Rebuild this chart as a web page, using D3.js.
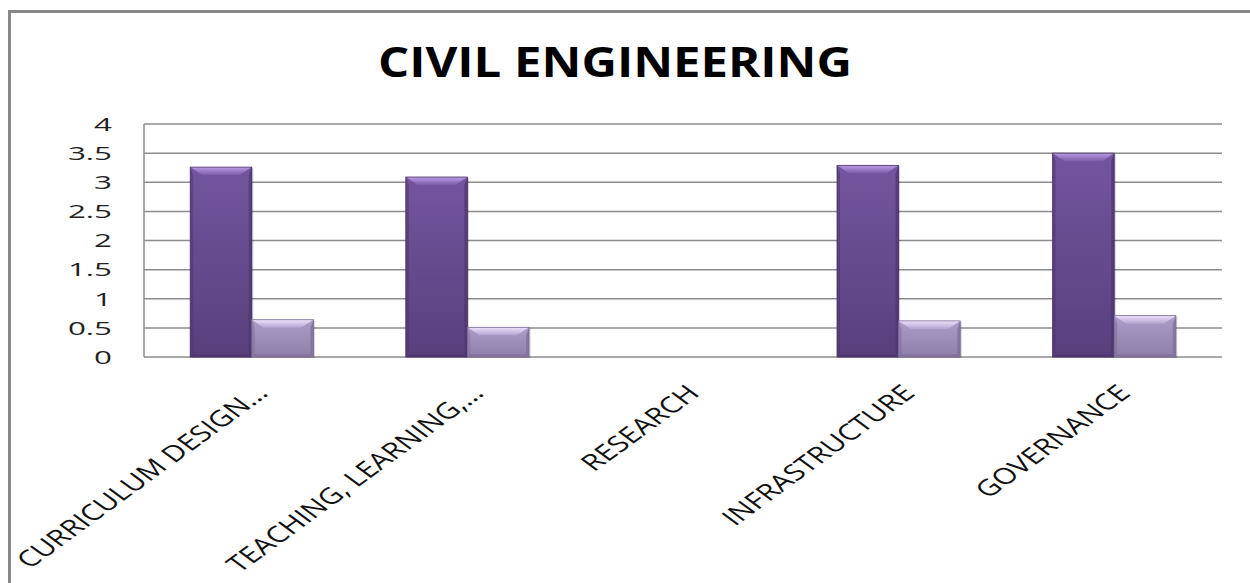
<!DOCTYPE html>
<html><head><meta charset="utf-8">
<script src="https://cdn.jsdelivr.net/npm/d3@7"></script>
<style>html,body{margin:0;padding:0;background:#fff;}svg{display:block;}</style>
</head><body>
<svg id="chart" width="1250" height="583"></svg>
<script>
const title = "CIVIL ENGINEERING";
const categories = ["CURRICULUM DESIGN…", "TEACHING, LEARNING,…", "RESEARCH", "INFRASTRUCTURE", "GOVERNANCE"];
const seriesA = [3.26, 3.09, 0, 3.29, 3.5];
const seriesB = [0.64, 0.51, 0, 0.62, 0.71];
const yTicks = [0, 0.5, 1, 1.5, 2, 2.5, 3, 3.5, 4];
const yTickLabels = ["0", "0.5", "1", "1.5", "2", "2.5", "3", "3.5", "4"];

const svg = d3.select("#chart");
const W = 1250, H = 583;
const m = {left: 144, right: 28, top: 124, bottom: 226};
const x = d3.scaleBand().domain(categories).range([m.left, W - m.right]).paddingInner(0).paddingOuter(0);
const y = d3.scaleLinear().domain([0, 4]).range([H - m.bottom, m.top]);
const xs = d3.scaleBand().domain(["A", "B"]).range([0, x.bandwidth()]).paddingInner(0).paddingOuter(0.75);

const defs = svg.append("defs");
function grad(id, stops, dir) {
  const g = defs.append("linearGradient").attr("id", id)
    .attr("x1", dir[0]).attr("y1", dir[1]).attr("x2", dir[2]).attr("y2", dir[3]);
  stops.forEach(s => g.append("stop").attr("offset", s[0]).attr("stop-color", s[1]));
}
grad("gA", [[0, "#73559f"], [1, "#57407c"]], ["0", "0", "0", "1"]);
grad("gB", [[0, "#ab9dc8"], [1, "#8e7faa"]], ["0", "0", "0", "1"]);
grad("tA", [[0, "#bb9be6"], [1, "#7c5ca8"]], ["0", "0", "0", "1"]);
grad("tB", [[0, "#efe2fd"], [1, "#b3a3d0"]], ["0", "0", "0", "1"]);

svg.append("rect").attr("width", W).attr("height", H).attr("fill", "#fff");
svg.append("rect").attr("x", 9.5).attr("y", 11.5).attr("width", W + 20).attr("height", H + 20)
  .attr("fill", "none").attr("stroke", "#878787").attr("stroke-width", 3);

svg.append("text").attr("x", 615).attr("y", 77).attr("text-anchor", "middle")
  .attr("font-family", "Open Sans").attr("font-weight", 700).attr("font-size", 42)
  .attr("textLength", 474).attr("lengthAdjust", "spacingAndGlyphs")
  .attr("fill", "#000").text(title);

svg.append("g").selectAll("line").data(yTicks).join("line")
  .attr("x1", m.left).attr("x2", W - m.right)
  .attr("y1", d => y(d)).attr("y2", d => y(d))
  .attr("stroke", "#8c8c8c").attr("stroke-width", 1.5);
svg.append("line").attr("x1", m.left).attr("x2", m.left).attr("y1", y(0)).attr("y2", y(4))
  .attr("stroke", "#8c8c8c").attr("stroke-width", 1.5);

const yLab = svg.append("g").selectAll("text").data(yTicks).join("text")
  .attr("y", d => y(d)).attr("dy", "0.36em")
  .attr("font-family", "Open Sans").attr("font-size", 19).attr("fill", "#222")
  .text((d, i) => yTickLabels[i]);
yLab.each(function() {
  const len = this.getComputedTextLength() * 1.65;
  d3.select(this).attr("x", 112 - len)
    .attr("textLength", len).attr("lengthAdjust", "spacingAndGlyphs");
});

const rows = [];
categories.forEach((c, i) => {
  rows.push({c, s: "A", v: seriesA[i]});
  rows.push({c, s: "B", v: seriesB[i]});
});
const bars = svg.append("g").selectAll("g").data(rows.filter(r => r.v > 0)).join("g");
bars.each(function(d) {
  const g = d3.select(this);
  const x0 = x(d.c) + xs(d.s), w = xs.bandwidth();
  const y0 = y(d.v), y1 = y(0), bv = 8, sb = 3;
  g.append("rect").attr("x", x0 + 1.5).attr("y", y0 + 1).attr("width", w).attr("height", y1 - y0)
    .attr("fill", "#000").attr("opacity", 0.18);
  g.append("rect").attr("x", x0).attr("y", y0).attr("width", w).attr("height", y1 - y0)
    .attr("fill", `url(#g${d.s})`);
  const side = d.s === "A" ? "#4e376f" : "#7f6f9a";
  g.append("path").attr("d", `M${x0},${y0}L${x0 + sb},${y0 + bv}L${x0 + sb},${y1 - sb}L${x0},${y1}Z`)
    .attr("fill", side).attr("opacity", 0.55);
  g.append("path").attr("d", `M${x0 + w},${y0}L${x0 + w - sb},${y0 + bv}L${x0 + w - sb},${y1 - sb}L${x0 + w},${y1}Z`)
    .attr("fill", side).attr("opacity", 0.75);
  g.append("path").attr("d", `M${x0},${y1}L${x0 + sb},${y1 - sb}L${x0 + w - sb},${y1 - sb}L${x0 + w},${y1}Z`)
    .attr("fill", side).attr("opacity", 0.7);
  g.append("path").attr("d", `M${x0},${y0}L${x0 + w},${y0}L${x0 + w - 12},${y0 + bv}L${x0 + 12},${y0 + bv}Z`)
    .attr("fill", `url(#t${d.s})`);
  g.append("rect").attr("x", x0).attr("y", y0).attr("width", w).attr("height", y1 - y0)
    .attr("fill", "none").attr("stroke", d.s === "A" ? "#4a3469" : "#7a6b94").attr("stroke-width", 0.8);
});

svg.append("g").selectAll("text").data(categories).join("text")
  .attr("transform", d => `translate(${x(d) + x.bandwidth() / 2 + 2},383) scale(1.37,1) rotate(-45)`)
  .attr("text-anchor", "end").attr("dy", "0.72em")
  .attr("font-family", "Open Sans").attr("font-size", 22.5).attr("fill", "#111")
  .text(d => d);
</script>
</body></html>
